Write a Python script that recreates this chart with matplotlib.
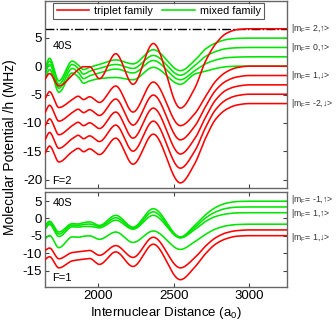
import numpy as np
import matplotlib
matplotlib.use("Agg")
import matplotlib.pyplot as plt
import matplotlib.transforms as mtransforms
from matplotlib.lines import Line2D

plt.rcParams['font.family'] = ['Liberation Sans', 'DejaVu Sans']
plt.rcParams['mathtext.default'] = 'regular'

# ---------------- data ----------------
# shared internuclear-distance knots (a0)
R = [1650, 1680, 1742, 1830, 1870, 1905, 1945, 2010, 2118, 2232, 2366, 2545,
     2640, 2710, 2780, 2850, 2920, 3000, 3250]

# F=2 panel, triplet family (red)
f2_triplet = [
    [-2.3, -1.3, -3.5, -1.6, -0.6, -0.1, -0.1, -2.2, 2.2, -3.2, 4.0, -7.4, -3.9, 0.8, 4.0, 5.8, 6.45, 6.6, 6.6],
    [-5.8, -4.5, -7.3, -5.9, -5.3, -5.9, -5.4, -6.4, -3.5, -8.1, -2.8, -10.5, -8.4, -5.4, -2.6, -1.0, -0.25, 0.0, 0.0],
    [-8.2, -6.9, -9.7, -8.2, -7.6, -8.2, -7.7, -8.7, -5.8, -10.4, -5.1, -13.0, -10.6, -7.2, -4.2, -2.6, -1.9, -1.65, -1.65],
    [-10.6, -9.3, -12.1, -10.5, -9.9, -10.5, -10.0, -11.0, -8.1, -12.7, -7.4, -15.5, -12.8, -9.1, -5.9, -4.2, -3.55, -3.3, -3.3],
    [-13.0, -11.7, -14.5, -12.8, -12.2, -12.8, -12.3, -13.3, -10.4, -15.0, -9.7, -18.0, -15.0, -10.9, -7.6, -5.9, -5.2, -4.95, -4.95],
    [-15.4, -14.1, -16.9, -15.1, -14.5, -15.1, -14.6, -15.6, -12.7, -17.3, -12.0, -20.6, -17.2, -12.8, -9.3, -7.6, -6.85, -6.6, -6.6],
]
# F=2 panel, mixed family (green)
f2_mixed = [
    [-0.3, 1.4, -2.6, 0.9, 0.2, -0.6, -0.2, 0.3, 1.1, 0.4, 2.9, -0.8, 1.0, 3.0, 4.1, 4.7, 4.9, 4.95, 4.95],
    [-0.9, 0.9, -3.2, 0.3, -0.4, -1.4, -0.9, -0.4, 0.3, -0.4, 1.9, -1.6, 0.1, 1.7, 2.6, 3.1, 3.25, 3.3, 3.3],
    [-1.5, 0.3, -3.9, -0.4, -1.1, -2.2, -1.7, -1.2, -0.5, -1.2, 1.0, -2.4, -0.8, 0.4, 1.1, 1.5, 1.6, 1.65, 1.65],
    [-2.3, -0.6, -4.6, -1.2, -1.9, -3.0, -2.6, -2.2, -2.0, -2.4, -0.2, -3.2, -1.4, -0.9, -0.4, -0.1, 0.0, 0.0, 0.0],
]
# F=1 panel
f1_mixed = [
    [-2.0, -0.8, -3.9, -1.5, -1.6, -1.2, -1.0, -2.0, 0.9, -2.5, 2.8, -5.3, -2.0, 1.0, 3.2, 4.4, 4.85, 4.95, 4.95],
    [-2.6, -1.2, -4.5, -1.9, -2.0, -1.7, -1.6, -2.3, 0.2, -2.8, 1.9, -5.5, -2.6, 0.1, 1.9, 2.9, 3.25, 3.3, 3.3],
    [-3.2, -1.7, -5.2, -2.4, -2.5, -2.3, -2.3, -2.7, -0.5, -3.1, 0.9, -5.6, -3.2, -0.9, 0.6, 1.3, 1.6, 1.65, 1.65],
    [-5.9, -4.9, -8.4, -5.3, -5.4, -5.1, -5.0, -6.0, -3.9, -6.9, -3.6, -8.9, -6.7, -4.6, -3.0, -2.1, -1.75, -1.65, -1.65],
]
f1_triplet = [
    [-9.2, -8.5, -11.6, -9.8, -9.6, -9.4, -9.2, -10.6, -7.8, -11.2, -5.4, -14.2, -11.3, -8.0, -5.5, -4.1, -3.5, -3.3, -3.3],
    [-11.8, -11.0, -14.2, -12.2, -11.9, -11.7, -11.5, -13.2, -9.6, -13.8, -7.4, -17.6, -14.0, -10.2, -7.3, -5.8, -5.1, -4.95, -4.95],
]
threshold = 6.6

f2_labels = [r'|m$_F$= 2,↑>', r'|m$_F$= 0,↑>', r'|m$_F$= 1,↓>', r'|m$_F$= -2,↓>']
f2_label_y = [6.6, 3.3, -1.65, -6.6]
f1_labels = [r'|m$_F$= -1,↑>', r'|m$_F$= 1,↑>', r'|m$_F$= 1,↓>']
f1_label_y = [5.4, 1.45, -5.4]

RED = '#ff0000'
GREEN = '#00e600'


def smooth(x, y, n=600):
    """Shape-preserving cubic curve through the read knots (for drawing)."""
    x = np.asarray(x, float); y = np.asarray(y, float)
    h = np.diff(x); d = np.diff(y) / h
    m = np.zeros_like(y)
    for k in range(1, len(x) - 1):
        if d[k - 1] * d[k] > 0:
            w1 = 2 * h[k] + h[k - 1]; w2 = h[k] + 2 * h[k - 1]
            m[k] = (w1 + w2) / (w1 / d[k - 1] + w2 / d[k])
    m[0] = d[0]; m[-1] = d[-1]
    xs = np.linspace(x[0], x[-1], n)
    i = np.clip(np.searchsorted(x, xs) - 1, 0, len(h) - 1)
    t = (xs - x[i]) / h[i]
    h00 = 2 * t**3 - 3 * t**2 + 1; h10 = t**3 - 2 * t**2 + t
    h01 = -2 * t**3 + 3 * t**2; h11 = t**3 - t**2
    ys = h00 * y[i] + h10 * h[i] * m[i] + h01 * y[i + 1] + h11 * h[i] * m[i + 1]
    return xs, ys


fig = plt.figure(figsize=(3.36, 3.29), dpi=100)
W, H = 336, 329
ax1 = fig.add_axes([45 / W, 1 - 188 / H, 242 / W, 187 / H])
ax2 = fig.add_axes([45 / W, 1 - 287 / H, 242 / W, 95 / H])

LW = 1.15
ax1.axhline(threshold, color='k', lw=1.0, ls='-.', zorder=1)
for ys in f2_mixed:
    ax1.plot(*smooth(R, ys), color=GREEN, lw=LW, zorder=2)
for ys in f2_triplet:
    ax1.plot(*smooth(R, ys), color=RED, lw=LW, zorder=3)
for ys in f1_mixed:
    ax2.plot(*smooth(R, ys), color=GREEN, lw=LW, zorder=2)
for ys in f1_triplet:
    ax2.plot(*smooth(R, ys), color=RED, lw=LW, zorder=3)

for ax in (ax1, ax2):
    ax.set_xlim(1650, 3250)
    ax.set_xticks([2000, 2500, 3000])
    ax.tick_params(direction='in', top=True, right=True, length=3, width=0.8,
                   labelsize=9.5, color='#444444', pad=2)
    for s in ax.spines.values():
        s.set_color('#666666'); s.set_linewidth(1.0)

ax1.set_ylim(-21.5, 11.5)
ax1.set_yticks([-20, -15, -10, -5, 0, 5])
ax1.set_yticklabels(['-20', '-15', '-10', '-5', '0', '5'])
ax1.tick_params(labelbottom=False)
ax2.set_ylim(-19.7, 7.6)
ax2.set_yticks([-15, -10, -5, 0, 5])
ax2.set_yticklabels(['-15', '-10', '-5', '0', '5'])

ax1.text(0.03, 0.76, '40S', transform=ax1.transAxes, fontsize=8, va='center')
ax1.text(0.03, 0.04, 'F=2', transform=ax1.transAxes, fontsize=8, va='center')
ax2.text(0.03, 0.88, '40S', transform=ax2.transAxes, fontsize=8, va='center')
ax2.text(0.03, 0.09, 'F=1', transform=ax2.transAxes, fontsize=8, va='center')

for ax, labs, ly in ((ax1, f2_labels, f2_label_y), (ax2, f1_labels, f1_label_y)):
    tr = mtransforms.blended_transform_factory(ax.transAxes, ax.transData)
    for lab, y in zip(labs, ly):
        ax.text(1.015, y, lab, transform=tr, fontsize=6.3, va='center', ha='left',
                clip_on=False, color='#333333')

handles = [Line2D([], [], color=RED, lw=LW), Line2D([], [], color=GREEN, lw=LW)]
leg = ax1.legend(handles, ['triplet family', 'mixed family'], ncol=2, loc='upper center',
                 bbox_to_anchor=(0.47, 1.0), fontsize=7.8, frameon=True, fancybox=False,
                 borderpad=0.3, handlelength=3.0, columnspacing=0.8, handletextpad=0.5,
                 borderaxespad=0.15)
leg.get_frame().set_edgecolor('#333333'); leg.get_frame().set_linewidth(0.8)

ax2.set_xlabel('Internuclear Distance (a$_0$)', fontsize=9.5, labelpad=2)
fig.text(10 / W, 1 - 147 / H, 'Molecular Potential /h (MHz)', rotation=90,
         fontsize=10, ha='center', va='center')

fig.savefig('out.png', dpi=100)
